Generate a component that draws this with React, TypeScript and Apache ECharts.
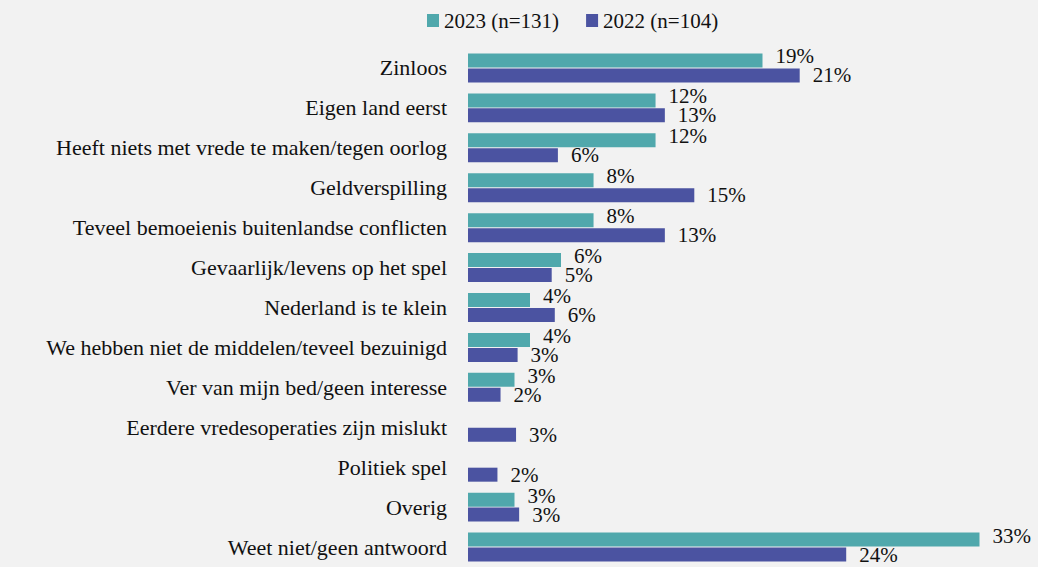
import React, { useEffect, useRef } from "react";
import * as echarts from "echarts";

const categories = [
  "Zinloos",
  "Eigen land eerst",
  "Heeft niets met vrede te maken/tegen oorlog",
  "Geldverspilling",
  "Teveel bemoeienis buitenlandse conflicten",
  "Gevaarlijk/levens op het spel",
  "Nederland is te klein",
  "We hebben niet de middelen/teveel bezuinigd",
  "Ver van mijn bed/geen interesse",
  "Eerdere vredesoperaties zijn mislukt",
  "Politiek spel",
  "Overig",
  "Weet niet/geen antwoord",
];

const values2023: (number | null)[] = [19.0, 12.1, 12.1, 8.1, 8.1, 6.0, 4.0, 4.0, 3.0, null, null, 3.0, 33.0];
const values2022: (number | null)[] = [21.4, 12.7, 5.8, 14.6, 12.7, 5.4, 5.6, 3.2, 2.1, 3.1, 1.9, 3.3, 24.4];

const legend2023 = "2023 (n=131)";
const legend2022 = "2022 (n=104)";

const FONT = "Liberation Serif";

export default function App() {
  const ref = useRef<HTMLDivElement>(null);
  useEffect(() => {
    document.body.style.margin = "0";
    const chart = echarts.init(ref.current!, null, { renderer: "svg" });
    const labelCfg = (dy: number) => ({
      show: true,
      position: "right" as const,
      distance: 13,
      offset: [0, dy],
      fontFamily: FONT,
      fontSize: 21,
      color: "#111",
      formatter: (p: any) => (p.value == null ? "" : Math.round(p.value) + "%"),
    });
    chart.setOption({
      animation: false,
      backgroundColor: "#f2f2f2",
      legend: {
        top: 5,
        left: 422,
        itemWidth: 12,
        itemHeight: 13,
        itemGap: 27,
        icon: "rect",
        textStyle: { fontFamily: FONT, fontSize: 21, color: "#111" },
        data: [legend2023, legend2022],
      },
      grid: { left: 468, top: 48, width: 558, height: 527, containLabel: false },
      xAxis: {
        type: "value",
        min: 0,
        max: 36,
        show: false,
      },
      yAxis: {
        type: "category",
        data: categories,
        inverse: true,
        axisLine: { show: false },
        axisTick: { show: false },
        axisLabel: { fontFamily: FONT, fontSize: 22, color: "#111", margin: 21 },
      },
      series: [
        {
          name: legend2023,
          type: "bar",
          data: values2023,
          barWidth: 14,
          barGap: "7%",
          itemStyle: { color: "#50a8ac" },
          label: labelCfg(-4),
        },
        {
          name: legend2022,
          type: "bar",
          data: values2022,
          barWidth: 14,
          itemStyle: { color: "#4b53a1" },
          label: labelCfg(0),
        },
      ],
    });
    return () => chart.dispose();
  }, []);
  return <div ref={ref} style={{ width: 1038, height: 567 }} />;
}
